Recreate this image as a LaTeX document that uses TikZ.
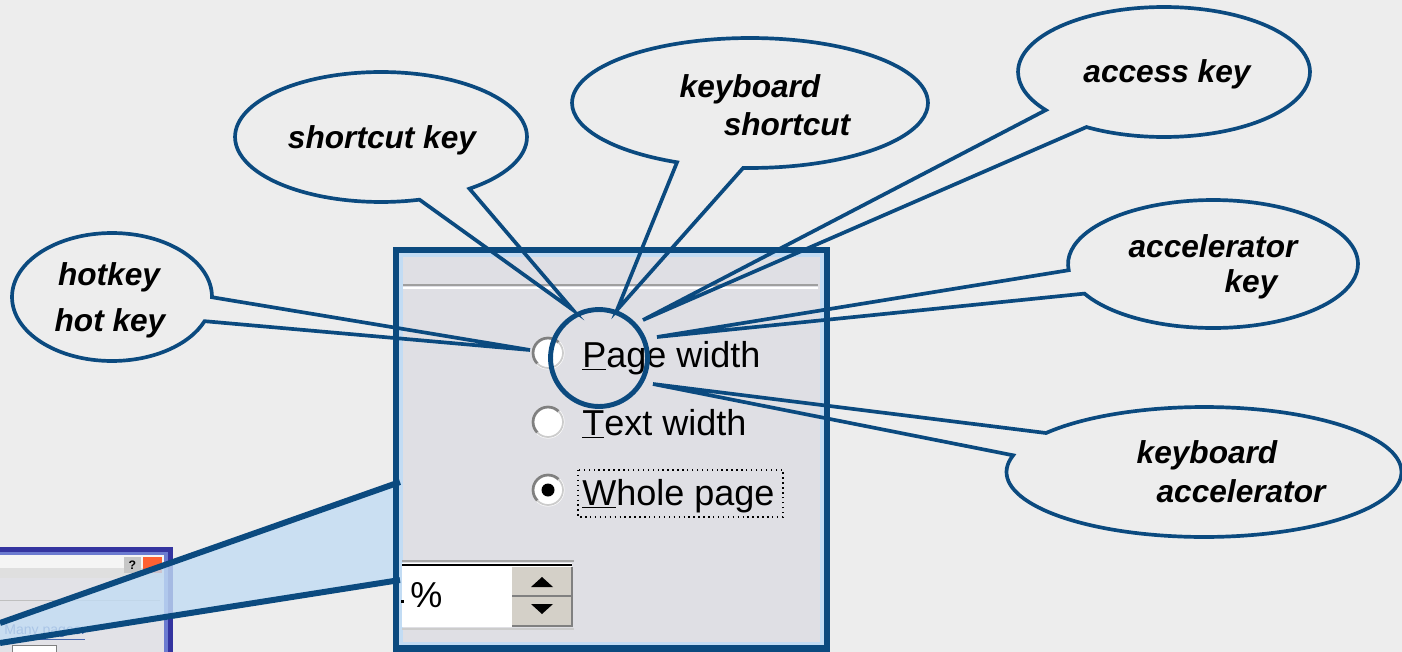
\documentclass[tikz,border=0pt]{standalone}
\usepackage{fontspec}
\setmainfont{Liberation Sans}
\usetikzlibrary{shapes.callouts}

\definecolor{bluedark}{HTML}{0B4A7F}
\definecolor{bluelight}{HTML}{C2DCF4}
\definecolor{bggray}{HTML}{EDEDED}
\definecolor{dlggray}{HTML}{DFDFE4}
\definecolor{frameblue}{HTML}{3434A0}
\definecolor{framelight}{HTML}{6C7BD0}
\definecolor{btngray}{HTML}{D4D0C8}
\definecolor{linkblue}{HTML}{4A6AB0}

\begin{document}
\begin{tikzpicture}[x=0.02cm, y=-0.02cm,
	bubble/.style={ellipse callout, draw=bluedark, line width=2.1pt, inner sep=0pt, callout pointer arc=22},
	bubbletext/.style={font=\fontsize{18pt}{20pt}\selectfont\bfseries\itshape, anchor=base, inner sep=0pt},
	dlgtext/.style={font=\fontsize{20.5pt}{22pt}\selectfont, anchor=base west, inner sep=0pt}]
		\fill[bggray] (0,0) rectangle (1402,652);
		\useasboundingbox (0,0) rectangle (1402,652);
		
		\coordinate (fa) at (0,623);
		\coordinate (fb) at (400,482);
		\coordinate (fc) at (400,580);
		\coordinate (fd) at (0,643);
		\coordinate (tipHot)   at (530,350);
		\coordinate (tipShort) at (573,310);
		\coordinate (tipKbs)   at (617,310);
		\coordinate (tipAcc)   at (643,320);
		\coordinate (tipAcl)   at (657,337);
		\coordinate (tipKba)   at (653,384);
		
		% Draw small dialog
		\fill[frameblue] (0,547) rectangle (173,652);
		\fill[framelight] (0,552) rectangle (168,652);
		\fill[white!92!gray] (0,555) rectangle (164,578);
		\fill[gray!25] (0,568) rectangle (164,578);
		\fill[gray!45] (124,557) rectangle (141,573);
		\node[font=\fontsize{7pt}{8pt}\selectfont\bfseries, inner sep=0pt] (qm) at (132.5,565) {?};
		\fill[red!55!orange!80] (143,557) rectangle (162,573);
		\fill[dlggray!90!white] (0,578) rectangle (164,652);
		\draw[gray!50] (0,600) -- (160,600);
		\node[font=\fontsize{8pt}{9pt}\selectfont, text=linkblue, anchor=base west, inner sep=0pt] (many) at (4,634) {\underline{Many pages:}};
		\draw[gray, fill=white] (12,645) rectangle (56,662);
		
		% Draw zoom funnel
		\fill[bluelight, fill opacity=0.8] (fa) -- (fb) -- (fc) -- (fd) -- cycle;
		
		% Draw dialog
		\fill[dlggray] (396,250) rectangle (827,652);
		\draw[bluelight, line width=2.8pt] (401,255) rectangle (822,644);
		\draw[bluedark, line width=3.8pt] (396,250) rectangle (827,648.5);
		\draw[gray!75, line width=1.3pt] (403,285) -- (818,285);
		\draw[white, line width=1pt] (403,288) -- (818,288);
		
		\foreach \y in {353,422,490}{
			\fill[white] (548,\y) circle[radius=0.33cm];
			\draw[gray, line width=1.6pt] (548,\y) ++(45:0.3cm) arc[start angle=45, end angle=225, radius=0.3cm];
			\draw[gray!40, line width=1pt] (548,\y) ++(225:0.3cm) arc[start angle=225, end angle=405, radius=0.3cm];
		}
		\fill (548,490) circle[radius=0.13cm];
		
		\node[dlgtext] (pw) at (582,367) {\underline{P}age width};
		\node[dlgtext] (tw) at (582,435) {\underline{T}ext width};
		\node[dlgtext] (wp) at (582,505) {\underline{W}hole page};
		\draw[dotted, line width=0.8pt] (578,470) rectangle (783,517);
		
		% Draw spin box
		\fill[white] (402,563) rectangle (572,627);
		\draw[gray!70, line width=1pt] (402,561) -- (574,561);
		\draw[line width=1.5pt] (402,565) -- (572,565);
		\draw[gray!40, line width=1.5pt] (402,629) -- (574,629);
		\fill[btngray] (512,567) rectangle (572,595);
		\fill[btngray] (512,597) rectangle (572,626);
		\draw[gray, line width=1pt] (512,596) -- (572,596) (572,567) -- (572,626) -- (512,626);
		\fill (542,577) -- (553,587) -- (531,587) -- cycle;
		\fill (531,604) -- (553,604) -- (542,614) -- cycle;
		\fill (401,600) rectangle (404,603);
		\node[dlgtext] (pct) at (410,607) {\%};
		
		% Draw funnel edges
		\draw[bluedark, line width=3.4pt] (fa) -- (fb) (fd) -- (fc);
		
		% Draw magnifier
		\draw[bluedark, line width=2.8pt] (599,358) circle[radius=0.97cm];
		
		% Draw callouts
		\foreach \n/\c/\w/\h/\t in {hot/{112,297}/4.0/2.56/tipHot, short/{381,137}/5.84/2.6/tipShort,
			kbs/{750,103}/7.12/2.6/tipKbs, acc/{1164,72}/5.84/2.6/tipAcc,
			acl/{1213,264}/5.8/2.56/tipAcl, kba/{1204,472}/7.9/2.6/tipKba}{
			\node[bubble, minimum width=\w cm, minimum height=\h cm, callout absolute pointer={(\t)}] (\n) at (\c) {};
		}
		
		% Draw callout texts
		\foreach \n/\p/\l in {hot1/{109,285}/hotkey, hot2/{110,331}/hot key, short1/{382,148}/shortcut key,
			kbs1/{750,97}/keyboard, kbs2/{787,135}/shortcut, acc1/{1167,83}/access key,
			acl1/{1213,257}/accelerator, acl2/{1251,292}/key,
			kba1/{1207,463}/keyboard, kba2/{1241,502}/accelerator}{
			\node[bubbletext] (\n) at (\p) {\l};
		}
	\end{tikzpicture}
\end{document}
